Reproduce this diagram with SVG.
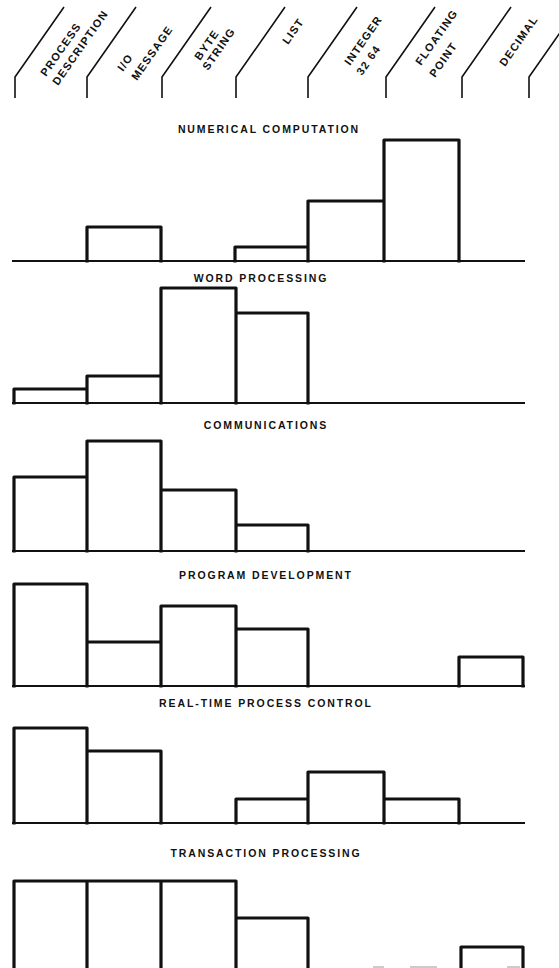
<svg xmlns="http://www.w3.org/2000/svg" width="559" height="968" viewBox="0 0 559 968">
<style>
.div{fill:none;stroke:#111;stroke-width:1.6;stroke-linejoin:round}
.bar{fill:none;stroke:#111;stroke-width:3.2;stroke-linejoin:round;stroke-linecap:square}
.base{stroke:#111;stroke-width:2}
.lbl{font-family:"Liberation Sans",Arial,sans-serif;font-weight:bold;font-size:11px;letter-spacing:1.2px;fill:#111}
.ttl{font-family:"Liberation Sans",Arial,sans-serif;font-weight:bold;font-size:10.5px;letter-spacing:1.9px;fill:#111;text-anchor:middle}
</style>
<rect width="559" height="968" fill="#fff"/>
<g id="header">
<path class="div" d="M15 98V77L64 7M87 98V77L136 7M162 98V77L211 7M236 98V77L285 7M308 98V77L357 7M386 98V77L435 7M462 98V77L511 7M529 98V77L578 7"/>
<text class="lbl" transform="translate(46,77) rotate(-55)">PROCESS</text>
<text class="lbl" transform="translate(58,86) rotate(-55)">DESCRIPTION</text>
<text class="lbl" transform="translate(123,72) rotate(-55)">I/O</text>
<text class="lbl" transform="translate(137,81) rotate(-55)">MESSAGE</text>
<text class="lbl" transform="translate(200,61) rotate(-55)">BYTE</text>
<text class="lbl" transform="translate(208,71) rotate(-55)">STRING</text>
<text class="lbl" transform="translate(288,45) rotate(-55)">LIST</text>
<text class="lbl" transform="translate(350,66) rotate(-55)">INTEGER</text>
<text class="lbl" transform="translate(362,76) rotate(-55)">32 64</text>
<text class="lbl" transform="translate(421,66) rotate(-55)">FLOATING</text>
<text class="lbl" transform="translate(435,78) rotate(-55)">POINT</text>
<text class="lbl" transform="translate(505,67) rotate(-55)">DECIMAL</text>
</g>
<g id="numerical-computation">
<text class="ttl" x="269" y="133">NUMERICAL COMPUTATION</text>
<line class="base" x1="12" y1="261" x2="525" y2="261"/>
<path class="bar" d="M87 261V227H161V261M235 261V247H308V261M308 261V201H384V261M384 261V140H459V261"/>
</g>
<g id="word-processing">
<text class="ttl" x="261" y="282">WORD PROCESSING</text>
<line class="base" x1="12" y1="403" x2="525" y2="403"/>
<path class="bar" d="M14 403V389H87V403M87 403V376H161V403M161 403V288H236V403M236 403V313H308V403"/>
</g>
<g id="communications">
<text class="ttl" x="266" y="429">COMMUNICATIONS</text>
<line class="base" x1="12" y1="551" x2="525" y2="551"/>
<path class="bar" d="M14 551V477H87V551M87 551V441H161V551M161 551V490H236V551M236 551V525H308V551"/>
</g>
<g id="program-development">
<text class="ttl" x="266" y="579">PROGRAM DEVELOPMENT</text>
<line class="base" x1="12" y1="686" x2="525" y2="686"/>
<path class="bar" d="M14 686V584H87V686M87 686V642H161V686M161 686V606H236V686M236 686V629H308V686M459 686V657H523V686"/>
</g>
<g id="real-time-process-control">
<text class="ttl" x="266" y="707">REAL-TIME PROCESS CONTROL</text>
<line class="base" x1="12" y1="823" x2="525" y2="823"/>
<path class="bar" d="M14 823V728H87V823M87 823V751H161V823M236 823V799H308V823M308 823V772H384V823M384 823V799H459V823"/>
</g>
<g id="transaction-processing">
<text class="ttl" x="266" y="857">TRANSACTION PROCESSING</text>
<path d="M373 967H384M410 967H437M507 967H520" stroke="#bbb" stroke-width="1.5"/>
<path class="bar" d="M14 972V881H87V972M87 972V881H161V972M161 972V881H236V972M236 972V918H308V972M461 972V947H523V972"/>
</g>
</svg>
